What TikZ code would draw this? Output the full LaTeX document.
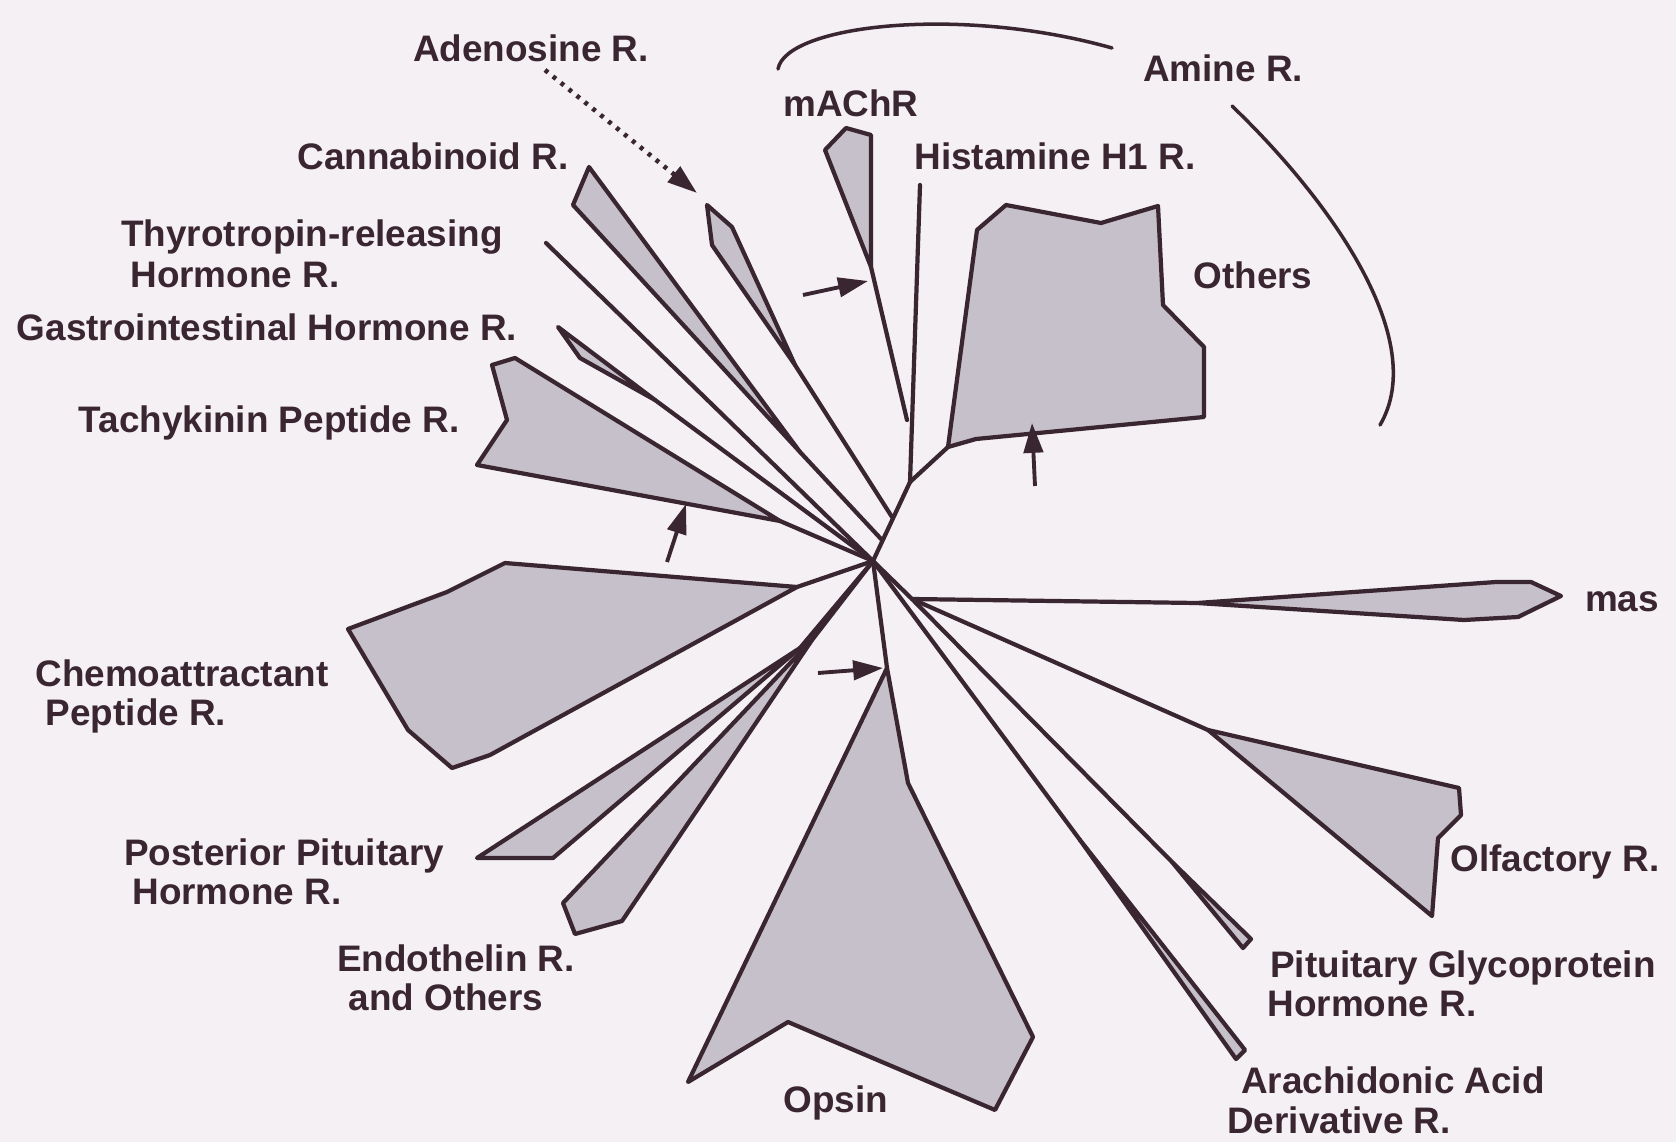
\documentclass[tikz,border=0pt]{standalone}
\usepackage{fontspec}
\setmainfont{Liberation Sans}
\usetikzlibrary{arrows.meta}
\definecolor{ink}{RGB}{58,38,48}
\definecolor{shade}{RGB}{198,192,202}
\definecolor{paper}{RGB}{244,240,243}
\begin{document}
\begin{tikzpicture}[x=0.02cm,y=-0.02cm,
  branch/.style={draw=ink, line width=2.4pt, line join=round, line cap=round},
  wedge/.style={branch, fill=shade},
  pointer/.style={draw=ink, line width=2.2pt, -{Triangle[length=17pt,width=11pt]}},
  dotpointer/.style={draw=ink, line width=2.6pt, dash pattern=on 2.2pt off 3.6pt, -{Triangle[length=17pt,width=11pt]}},
  bracketline/.style={draw=ink, line width=2pt, line cap=round},
  lbl/.style={text=ink, font=\fontsize{21}{24}\selectfont\bfseries, inner sep=0pt, anchor=base}]
\fill[paper] (0,0) rectangle (1676,1142);
\useasboundingbox (0,0) rectangle (1676,1142);

% junctions
\coordinate (C) at (873,561);
\coordinate (J2) at (910,482);
\coordinate (Jm) at (907,420);
\coordinate (T1) at (892,517);
\coordinate (T2) at (882,540);
\coordinate (J3) at (912,599);
\coordinate (hisTop) at (920,185);
\coordinate (th0) at (546,243);

% mAChR
\coordinate (m1) at (825,150); \coordinate (m2) at (846,128);
\coordinate (m3) at (871,135); \coordinate (m4) at (871,267);
% Others
\coordinate (o1) at (977,230); \coordinate (o2) at (1006,205);
\coordinate (o3) at (1101,223); \coordinate (o4) at (1158,206);
\coordinate (o5) at (1163,305); \coordinate (o6) at (1204,347);
\coordinate (o7) at (1204,417); \coordinate (o8b) at (976,439);
\coordinate (o8) at (948,447);
% Cannabinoid
\coordinate (c1) at (589,167); \coordinate (c2) at (573,205); \coordinate (c3) at (800,452);
% Adenosine
\coordinate (a1) at (707,205); \coordinate (a2) at (732,227);
\coordinate (a3) at (712,245); \coordinate (a4) at (795,365);
% Gastrointestinal
\coordinate (g1) at (558,327); \coordinate (g2) at (655,400); \coordinate (g3) at (580,358);
% Tachykinin
\coordinate (k1) at (492,365); \coordinate (k2) at (515,358); \coordinate (k3) at (780,521);
\coordinate (k4) at (477,465); \coordinate (k5) at (507,420);
% Chemoattractant
\coordinate (h1) at (505,563); \coordinate (h2) at (447,592); \coordinate (h3) at (348,629);
\coordinate (h4) at (408,730); \coordinate (h5) at (452,768); \coordinate (h6) at (490,755);
\coordinate (h7) at (797,587);
% Posterior pituitary
\coordinate (p1) at (477,858); \coordinate (p2) at (553,858); \coordinate (p3) at (800,648);
% Endothelin
\coordinate (e1) at (563,903); \coordinate (e2) at (575,934); \coordinate (e3) at (622,921);
\coordinate (e4) at (812,640);
% Opsin
\coordinate (op1) at (887,668); \coordinate (op2) at (908,783); \coordinate (op3) at (1033,1037);
\coordinate (op4) at (995,1110); \coordinate (op5) at (788,1022); \coordinate (op6) at (688,1082);
% mas
\coordinate (ms1) at (1197,603); \coordinate (ms2) at (1496,582); \coordinate (ms3) at (1531,582);
\coordinate (ms4) at (1561,596); \coordinate (ms5) at (1518,617); \coordinate (ms6) at (1464,620);
% Olfactory
\coordinate (ol1) at (1208,730); \coordinate (ol2) at (1459,788); \coordinate (ol3) at (1461,815);
\coordinate (ol4) at (1438,838); \coordinate (ol5) at (1432,916);
% Pituitary glycoprotein
\coordinate (pg0) at (1172,862); \coordinate (pg1) at (1251,939); \coordinate (pg2) at (1243,948);
% Arachidonic
\coordinate (ar0) at (1080,840); \coordinate (ar1) at (1245,1050); \coordinate (ar2) at (1236,1059);
% arrows
\coordinate (ma0) at (803,295); \coordinate (ma1) at (868,281);
\coordinate (oa0) at (1035,486); \coordinate (oa1) at (1032,423);
\coordinate (ka0) at (667,562); \coordinate (ka1) at (686,504);
\coordinate (opa0) at (818,673); \coordinate (opa1) at (883,668);
\coordinate (ad0) at (545,70); \coordinate (ad1) at (697,193);
% brackets
\coordinate (b1s) at (778,69); \coordinate (b1e) at (1112,48);
\coordinate (b2s) at (1232,106); \coordinate (b2e) at (1380,425);

% ---- branch lines
\draw[branch] (hisTop) -- (J2) -- (C);
\draw[branch] (m4) -- (Jm);
\draw[branch] (J2) -- (o8);
\draw[branch] (a4) -- (T1);
\draw[branch] (c3) -- (T2);
\draw[branch] (th0) -- (C);
\draw[branch] (g2) -- (C);
\draw[branch] (k3) -- (C);
\draw[branch] (h7) -- (C);
\draw[branch] (p3) -- (C);
\draw[branch] (e4) -- (C);
\draw[branch] (C) -- (op1);
\draw[branch] (C) -- (J3) -- (pg0);
\draw[branch] (J3) -- (ms1);
\draw[branch] (J3) -- (ol1);
\draw[branch] (C) -- (ar0);

% ---- wedges
\draw[wedge] (m1) -- (m2) -- (m3) -- (m4) -- cycle;
\draw[wedge] (o1) -- (o2) -- (o3) -- (o4) -- (o5) -- (o6) -- (o7) -- (o8b) -- (o8) -- cycle;
\draw[wedge] (c1) -- (c3) -- (c2) -- cycle;
\draw[wedge] (a1) -- (a2) -- (a4) -- (a3) -- cycle;
\draw[wedge] (g1) -- (g2) -- (g3) -- cycle;
\draw[wedge] (k1) -- (k2) -- (k3) -- (k4) -- (k5) -- cycle;
\draw[wedge] (h1) -- (h7) -- (h6) -- (h5) -- (h4) -- (h3) -- (h2) -- cycle;
\draw[wedge] (p1) -- (p3) -- (p2) -- cycle;
\draw[wedge] (e1) -- (e4) -- (e3) -- (e2) -- cycle;
\draw[wedge] (op1) -- (op2) -- (op3) -- (op4) -- (op5) -- (op6) -- cycle;
\draw[wedge] (ms1) -- (ms2) -- (ms3) -- (ms4) -- (ms5) -- (ms6) -- cycle;
\draw[wedge] (ol1) -- (ol2) -- (ol3) -- (ol4) -- (ol5) -- cycle;
\draw[wedge] (pg0) -- (pg1) -- (pg2) -- cycle;
\draw[wedge] (ar0) -- (ar1) -- (ar2) -- cycle;

% ---- pointers
\draw[pointer] (ma0) -- (ma1);
\draw[pointer] (oa0) -- (oa1);
\draw[pointer] (ka0) -- (ka1);
\draw[pointer] (opa0) -- (opa1);
\draw[dotpointer] (ad0) -- (ad1);

% ---- amine brackets
\draw[bracketline] (b1s) .. controls (786,25) and (960,5) .. (b1e);
\draw[bracketline] (b2s) .. controls (1330,200) and (1430,340) .. (b2e);

% ---- labels
\node[lbl] (tAden) at (531,62) {Adenosine R.};
\node[lbl] (tmach) at (851,117) {mAChR};
\node[lbl] (tamine) at (1223,82) {Amine R.};
\node[lbl] (tcann) at (433,170) {Cannabinoid R.};
\node[lbl] (thist) at (1055,170) {Histamine H1 R.};
\node[lbl] (tthyA) at (312,246) {Thyrotropin-releasing};
\node[lbl] (tthyB) at (235,287) {Hormone R.};
\node[lbl] (tothers) at (1253,288) {Others};
\node[lbl] (tgast) at (267,340) {Gastrointestinal Hormone R.};
\node[lbl] (ttach) at (269,432) {Tachykinin Peptide R.};
\node[lbl] (tmas) at (1622,611) {mas};
\node[lbl] (tchemA) at (182,686) {Chemoattractant};
\node[lbl] (tchemB) at (136,725) {Peptide R.};
\node[lbl] (tppA) at (284,865) {Posterior Pituitary};
\node[lbl] (tppB) at (237,904) {Hormone R.};
\node[lbl] (tolf) at (1555,871) {Olfactory R.};
\node[lbl] (tendA) at (456,971) {Endothelin R.};
\node[lbl] (tendB) at (446,1010) {and Others};
\node[lbl] (tpgA) at (1463,977) {Pituitary Glycoprotein};
\node[lbl] (tpgB) at (1372,1016) {Hormone R.};
\node[lbl] (topsin) at (836,1112) {Opsin};
\node[lbl] (taraA) at (1393,1093) {Arachidonic Acid};
\node[lbl] (taraB) at (1339,1133) {Derivative R.};
\end{tikzpicture}
\end{document}
